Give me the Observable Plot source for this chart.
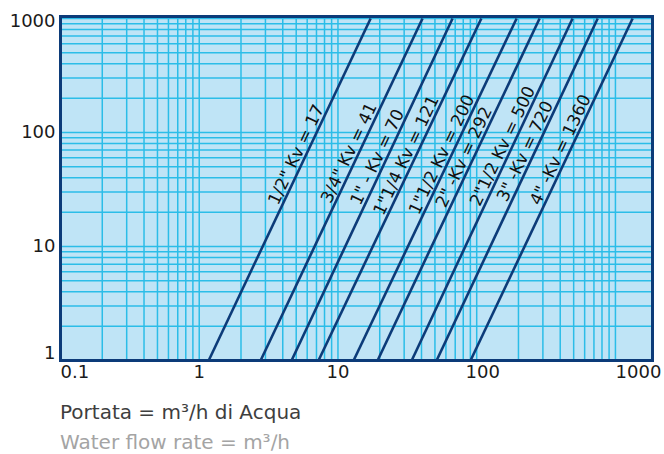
<!DOCTYPE html>
<html><head><meta charset="utf-8">
<script src="https://cdn.jsdelivr.net/npm/d3@7"></script>
<script src="https://cdn.jsdelivr.net/npm/@observablehq/plot@0.6"></script>
<style>
body{margin:0;background:#fff;font-family:"DejaVu Sans",sans-serif;}
#cap{margin-left:60px;padding-top:7px;font-size:20px;line-height:30px;}
</style></head><body>
<div id="chart"></div>
<div id="cap"><div style="color:#3e3e3e">Portata = m³∕h di Acqua</div><div style="color:#a4a4a4">Water flow rate = m³∕h</div></div>
<script>
// Valve sizes and Kv values
const labels = ["1∕2\" Kv = 17", "3∕4\" Kv = 41", "1\" - Kv = 70", "1\"1∕4 Kv = 121", "1\"1∕2 Kv = 200", "2\" -Kv = 292", "2\"1∕2 Kv = 500", "3\" -Kv = 720", "4\" -Kv = 1360"];
const kv = [17, 41, 70, 121, 200, 292, 500, 720, 1360];
// flow rate (m3/h) where each line crosses y = 1 and y = 1000
const flowAt1 = [1.17, 2.77, 4.63, 7.24, 12.96, 19.3, 34.0, 51.4, 90.3];
const flowAt1000 = [17.2, 40.7, 67.0, 108, 194, 284, 491, 745, 1330];
// y value (along each line) where the label sits
const labelAnchorY = [59, 61, 56, 58, 59, 56, 70, 63, 65];
const xTicks = [0.1, 1, 10, 100, 1000];
const yTicks = [1, 10, 100, 1000];

const xGrid = [], yGrid = [];
for (const k of [0.1, 1, 10, 100]) for (let m = 1; m <= 9; m++) xGrid.push(+(m * k).toPrecision(3));
xGrid.push(1000);
for (const k of [1, 10, 100]) for (let m = 1; m <= 9; m++) yGrid.push(m * k);
yGrid.push(1000);

const rows = kv.map((k, i) => {
  const la = Math.log10(flowAt1[i]), lb = Math.log10(flowAt1000[i]);
  const t = Math.log10(labelAnchorY[i]) / 3;
  return {kv: k, label: labels[i], a: flowAt1[i], b: flowAt1000[i], lx: Math.pow(10, la + t * (lb - la)), ly: labelAnchorY[i]};
});

const navy = "#0c3b79", bg = "#bfe4f6", grid = "#2bbde8";
const fmt = d => String(d);
const ax = {tickSize: 0, tickPadding: 5, label: null, tickFormat: fmt};

const chart = Plot.plot({
  width: 664, height: 390,
  marginTop: 16, marginLeft: 60, marginRight: 12, marginBottom: 30,
  x: {type: "log", domain: [0.1, 1850], axis: null},
  y: {type: "log", domain: [1, 1040], axis: null},
  style: {fontFamily: "DejaVu Sans", fontSize: "18px", color: "#1a1a1a", background: "transparent"},
  marks: [
    Plot.frame({fill: bg, stroke: null}),
    Plot.ruleX(xGrid, {stroke: grid, strokeWidth: 1.5}),
    Plot.ruleY(yGrid, {stroke: grid, strokeWidth: 1.5}),
    Plot.link(rows, {x1: "a", y1: () => 1, x2: "b", y2: () => 1000, stroke: navy, strokeWidth: 2.6}),
    Plot.text(rows, {x: "lx", y: "ly", text: "label", rotate: -64.6, dx: -8, dy: -4, fontSize: 17, fill: "#111"}),
    Plot.frame({stroke: navy, strokeWidth: 3}),
    Plot.axisX([xTicks[0]], {...ax, textAnchor: "start"}),
    Plot.axisX([xTicks[1], xTicks[2]], ax),
    Plot.axisX([xTicks[3]], {...ax, dx: 6}),
    Plot.axisX([xTicks[4]], {...ax, dx: 23}),
    Plot.axisY([yTicks[0]], {...ax, dy: -7}),
    Plot.axisY([yTicks[1], yTicks[2]], ax),
    Plot.axisY([yTicks[3]], {...ax, dy: 3})
  ]
});
document.getElementById("chart").append(chart);
</script>
</body></html>
